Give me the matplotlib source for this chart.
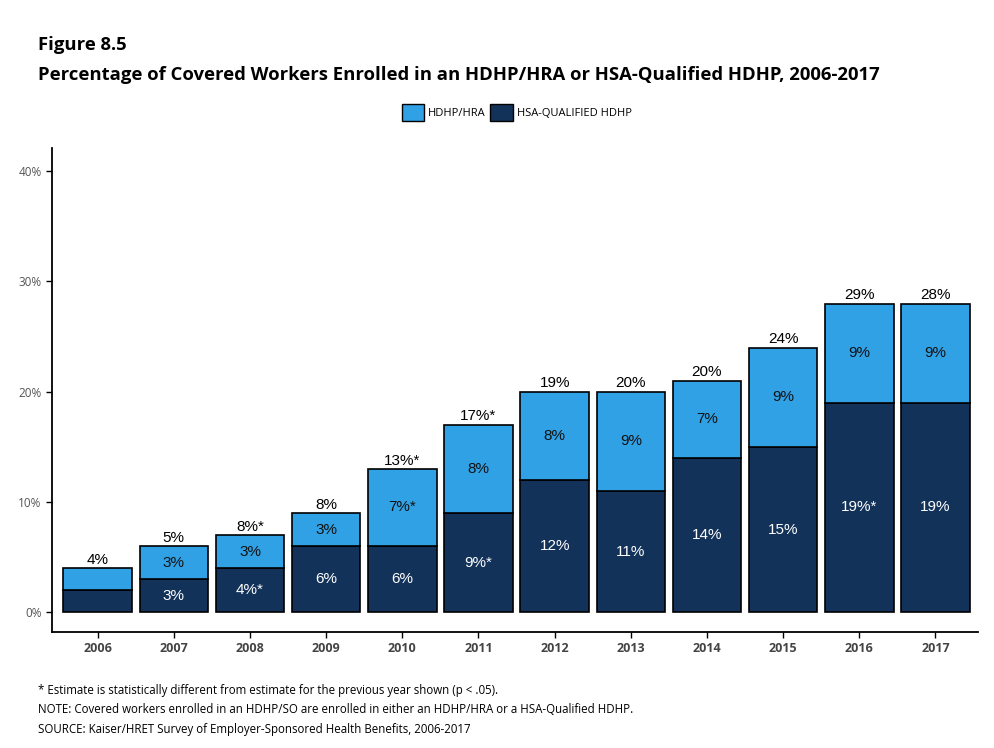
import numpy as np
import matplotlib.pyplot as plt
from matplotlib.patches import Patch

years = ["2006", "2007", "2008", "2009", "2010", "2011", "2012", "2013", "2014", "2015", "2016", "2017"]
hsa = [2, 3, 4, 6, 6, 9, 12, 11, 14, 15, 19, 19]
hra = [2, 3, 3, 3, 7, 8, 8, 9, 7, 9, 9, 9]
hsa_labels = ["", "3%", "4%*", "6%", "6%", "9%*", "12%", "11%", "14%", "15%", "19%*", "19%"]
hra_labels = ["", "3%", "3%", "3%", "7%*", "8%", "8%", "9%", "7%", "9%", "9%", "9%"]
total_labels = ["4%", "5%", "8%*", "8%", "13%*", "17%*", "19%", "20%", "20%", "24%", "29%", "28%"]

LIGHT = "#31A1E5"
DARK = "#123259"
LABEL_FONT = ["Liberation Sans", "DejaVu Sans"]
UI_FONT = ["Open Sans", "DejaVu Sans"]

fig = plt.figure(figsize=(9.94, 7.48), dpi=100)
ax = fig.add_axes([0.0523, 0.155, 0.9317, 0.647])

x = np.arange(len(years))
hsa = np.array(hsa)
hra = np.array(hra)
ax.bar(x, hsa, width=0.9, color=DARK, edgecolor="black", linewidth=1.2)
ax.bar(x, hra, width=0.9, bottom=hsa, color=LIGHT, edgecolor="black", linewidth=1.2)

for i in range(len(years)):
    if hsa_labels[i]:
        ax.text(x[i], hsa[i] / 2, hsa_labels[i], ha="center", va="center",
                color="white", fontsize=11, family=LABEL_FONT)
    if hra_labels[i]:
        ax.text(x[i], hsa[i] + hra[i] / 2, hra_labels[i], ha="center", va="center",
                color="#111111", fontsize=11, family=LABEL_FONT)
    ax.text(x[i], hsa[i] + hra[i] + 0.12, total_labels[i], ha="center", va="bottom",
            color="black", fontsize=11, family=LABEL_FONT)

ax.set_xlim(-0.6, 11.56)
ax.set_ylim(-1.8, 42.1)
ax.set_yticks([0, 10, 20, 30, 40])
ax.set_yticklabels(["0%", "10%", "20%", "30%", "40%"], family=UI_FONT, fontsize=8.5, color="#555555")
ax.set_xticks(x)
ax.set_xticklabels(years, family=UI_FONT, fontsize=9, fontweight="bold", color="#444444")
ax.tick_params(axis="both", length=4, width=1, color="black")
ax.tick_params(axis="x", pad=3)
for s in ["top", "right"]:
    ax.spines[s].set_visible(False)
for s in ["left", "bottom"]:
    ax.spines[s].set_linewidth(1.3)

fig.text(0.038, 0.94, "Figure 8.5", family=UI_FONT, fontweight="bold", fontsize=13.3, va="center")
fig.text(0.038, 0.90, "Percentage of Covered Workers Enrolled in an HDHP/HRA or HSA-Qualified HDHP, 2006-2017",
         family=UI_FONT, fontweight="bold", fontsize=13.3, va="center")

handles = [Patch(facecolor=LIGHT, edgecolor="black", label="HDHP/HRA"),
           Patch(facecolor=DARK, edgecolor="black", label="HSA-QUALIFIED HDHP")]
fig.legend(handles=handles, loc="center", bbox_to_anchor=(0.52, 0.85), ncol=2, frameon=False,
           prop={"family": UI_FONT, "size": 8}, handlelength=2.0, handleheight=2.0,
           handletextpad=0.4, columnspacing=0.4)

notes = ["* Estimate is statistically different from estimate for the previous year shown (p < .05).",
         "NOTE: Covered workers enrolled in an HDHP/SO are enrolled in either an HDHP/HRA or a HSA-Qualified HDHP.",
         "SOURCE: Kaiser/HRET Survey of Employer-Sponsored Health Benefits, 2006-2017"]
for k, line in enumerate(notes):
    fig.text(0.038, 0.077 - k * 0.026, line, family=UI_FONT, fontsize=8.3, va="center")

fig.savefig("out.png", dpi=100)
